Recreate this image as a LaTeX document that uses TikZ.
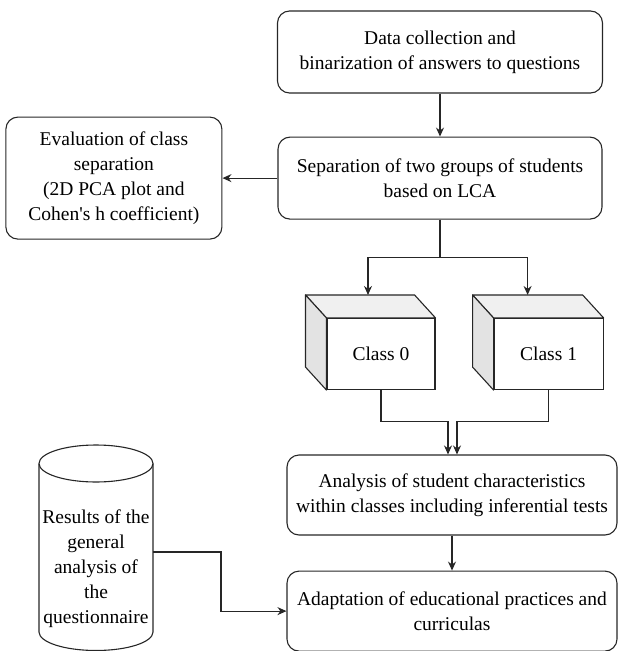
\documentclass[tikz,border=0pt]{standalone}
\usepackage{fontspec}
\setmainfont{LiberationSerif-Regular.ttf}
\newfontfamily\boxfont{LiberationSerif-Regular.ttf}
\usepackage{tikz}
\usetikzlibrary{arrows.meta, positioning, calc}

\tikzset{
    txt/.style = {font=\boxfont\fontsize{19.5}{25}\selectfont, align=center},
    proc/.style = {txt, draw=black!85, line width=1.1pt, rounded corners=12pt, inner sep=2pt},
    cls/.style = {txt, draw=black!85, line width=1.1pt, minimum width=108pt, minimum height=71pt},
    conn/.style = {draw=black!85, line width=1.1pt},
    arr/.style = {conn, -{Stealth[length=9pt, width=8pt]}},
}

\begin{document}
\begin{tikzpicture}[x=1pt, y=-1pt]
\useasboundingbox (0,0) rectangle (619,651);

\node[proc, minimum width=325pt, minimum height=82pt] (data) at (440,52)
    {Data collection and\\binarization of answers to questions};
\node[proc, minimum width=324pt, minimum height=82pt] (sep) [below=43pt of data]
    {Separation of two groups of students\\based on LCA};
\node[proc, minimum width=216pt, minimum height=122pt] (eval) [left=55pt of sep]
    {Evaluation of class\\separation\\(2D PCA plot and\\Cohen's h coefficient)};

\node[cls] (cls0) at (381,354) {Class 0};
\node[cls, minimum width=109pt] (cls1) [right=58pt of cls0] {Class 1};

% visible back faces of the boxes
\foreach \c in {cls0, cls1} {
    \filldraw[fill=gray!12, conn, line join=round] (\c.north west) -- ++(-21,-23)
        -- ($(\c.north east)+(-21,-23)$) -- (\c.north east) -- cycle;
    \filldraw[fill=gray!22, conn, line join=round] (\c.north west) -- ++(-21,-23)
        -- ($(\c.south west)+(-21,-23)$) -- (\c.south west) -- cycle;
}

\node[proc, minimum width=330pt, minimum height=80pt] (ana) at (452,495)
    {Analysis of student characteristics\\within classes including inferential tests};
\node[proc, minimum width=330pt, minimum height=80pt] (adp) [below=35pt of ana]
    {Adaptation of educational practices and\\curriculas};

% questionnaire store
\draw[conn] (39,463.5) -- (39,632) arc[start angle=180, end angle=360, x radius=57pt, y radius=18.5pt] -- (153,463.5);
\draw[conn] (96,463.5) ellipse [x radius=57pt, y radius=18.5pt];
\node[txt] (res) at (96,569) {Results of the\\general\\analysis of\\the\\questionnaire};
\coordinate (resout) at (153,552);

\draw[arr] (data) -- (sep);
\draw[arr] (sep.west) -- (eval.east |- sep.west);
\coordinate (split) at ($(sep.south)+(0,38)$);
\draw[conn] (sep.south) -- (split);
\draw[arr] (split) -| ($(cls0.north)+(-13,-23)$);
\draw[arr] (split) -| ($(cls1.north)+(-21,-23)$);
\draw[arr] (cls0.south) |- ($(ana.north)+(-4,-33)$) -- ($(ana.north)+(-4,0)$);
\draw[arr] (cls1.south) |- ($(ana.north)+(5,-33)$) -- ($(ana.north)+(5,0)$);
\draw[arr] (ana) -- (adp);
\draw[arr] (resout) -- ++(68,0) |- (adp.west);

\end{tikzpicture}
\end{document}
